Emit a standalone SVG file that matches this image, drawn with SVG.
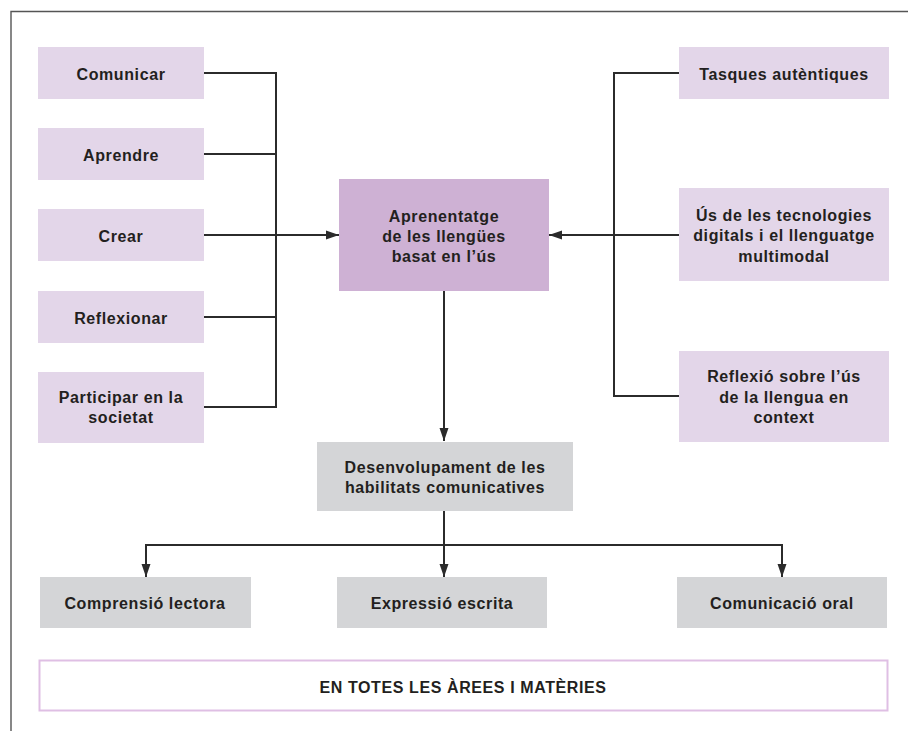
<svg xmlns="http://www.w3.org/2000/svg" width="908" height="731" viewBox="0 0 908 731">
<defs>
<style>
.lt{fill:#e3d6e9}
.ct{fill:#ceb1d4}
.gr{fill:#d4d5d7}
.t{font-family:"Liberation Sans",Arial,Helvetica,sans-serif;font-weight:bold;font-size:16px;fill:#231f20;text-anchor:middle;letter-spacing:0.6px}
.c{fill:none;stroke:#2b2b2b;stroke-width:2}
.fr{fill:none;stroke:#555;stroke-width:1.4}
</style>
<marker id="ah" markerUnits="userSpaceOnUse" markerWidth="14" markerHeight="10" refX="13" refY="5" orient="auto">
<path d="M0,0.5 L13,5 L0,9.5 Z" fill="#2b2b2b"/>
</marker>
</defs>
<rect width="908" height="731" fill="#fff"/>
<path class="fr" d="M11,731 V11.5 H908"/>

<g id="connectors">
<path class="c" d="M204,73 H276 V407 H204"/>
<path class="c" d="M204,154 H276"/>
<path class="c" d="M204,317 H276"/>
<path class="c" d="M204,235 H339" marker-end="url(#ah)"/>
<path class="c" d="M679,73 H614 V396 H679"/>
<path class="c" d="M679,235 H549" marker-end="url(#ah)"/>
<path class="c" d="M444,291 V441" marker-end="url(#ah)"/>
<path class="c" d="M444,511 V577" marker-end="url(#ah)"/>
<path class="c" d="M146,545 H782"/>
<path class="c" d="M146,544 V577" marker-end="url(#ah)"/>
<path class="c" d="M782,544 V577" marker-end="url(#ah)"/>
</g>

<g id="comunicar"><rect class="lt" x="38" y="47" width="166" height="52"/><text class="t" x="121" y="80">Comunicar</text></g>
<g id="aprendre"><rect class="lt" x="38" y="128" width="166" height="52"/><text class="t" x="121" y="161">Aprendre</text></g>
<g id="crear"><rect class="lt" x="38" y="209" width="166" height="52"/><text class="t" x="121" y="242">Crear</text></g>
<g id="reflexionar"><rect class="lt" x="38" y="291" width="166" height="52"/><text class="t" x="121" y="324">Reflexionar</text></g>
<g id="participar"><rect class="lt" x="38" y="372" width="166" height="71"/><text class="t" x="121" y="403">Participar en la</text><text class="t" x="121" y="423">societat</text></g>

<g id="aprenentatge"><rect class="ct" x="339" y="179" width="210" height="112"/><text class="t" x="444" y="222">Aprenentatge</text><text class="t" x="444" y="242">de les llengües</text><text class="t" x="444" y="262">basat en l’ús</text></g>

<g id="tasques"><rect class="lt" x="679" y="47" width="210" height="52"/><text class="t" x="784" y="80">Tasques autèntiques</text></g>
<g id="tecnologies"><rect class="lt" x="679" y="188" width="210" height="93"/><text class="t" x="784" y="221">Ús de les tecnologies</text><text class="t" x="784" y="241">digitals i el llenguatge</text><text class="t" x="784" y="262">multimodal</text></g>
<g id="reflexio"><rect class="lt" x="679" y="351" width="210" height="91"/><text class="t" x="784" y="382">Reflexió sobre l’ús</text><text class="t" x="784" y="403">de la llengua en</text><text class="t" x="784" y="423">context</text></g>

<g id="desenvolupament"><rect class="gr" x="317" y="442" width="256" height="69"/><text class="t" x="445" y="473">Desenvolupament de les</text><text class="t" x="445" y="493">habilitats comunicatives</text></g>

<g id="comprensio"><rect class="gr" x="40" y="577" width="211" height="51"/><text class="t" x="145" y="609">Comprensió lectora</text></g>
<g id="expressio"><rect class="gr" x="337" y="577" width="210" height="51"/><text class="t" x="442" y="609">Expressió escrita</text></g>
<g id="oral"><rect class="gr" x="677" y="577" width="210" height="51"/><text class="t" x="782" y="609">Comunicació oral</text></g>

<g id="arees"><rect x="39.5" y="660.5" width="848" height="50" fill="#fff" stroke="#dfbfe4" stroke-width="2"/><text class="t" x="463" y="693">EN TOTES LES ÀREES I MATÈRIES</text></g>
</svg>
